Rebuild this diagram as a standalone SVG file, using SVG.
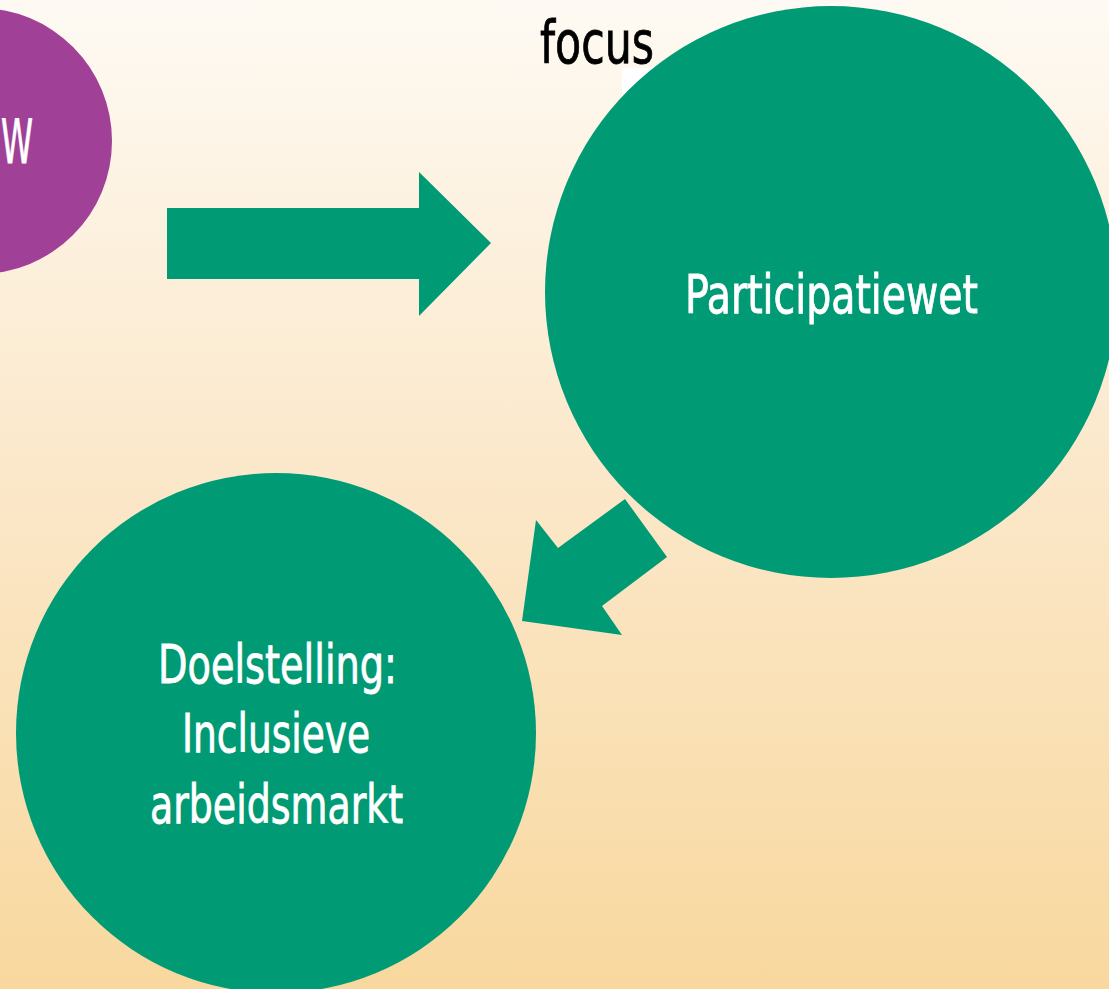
<svg xmlns="http://www.w3.org/2000/svg" width="1109" height="989" viewBox="0 0 1109 989">
<defs>
<linearGradient id="bg" x1="0" y1="0" x2="0" y2="1">
<stop offset="0" stop-color="#fefaf3"/>
<stop offset="0.5" stop-color="#fbe7c8"/>
<stop offset="1" stop-color="#f8d89e"/>
</linearGradient>
<style>
.green{fill:#009a74}
.purple{fill:#a04096}
.lbl{font-family:"DejaVu Sans Condensed","DejaVu Sans","Liberation Sans",sans-serif;font-stretch:condensed;font-size:53px;fill:#ffffff;stroke:#ffffff;stroke-width:0.8px}
.focus{font-family:"DejaVu Sans Condensed","DejaVu Sans","Liberation Sans",sans-serif;font-stretch:condensed;font-size:58px;fill:#000000;stroke:#000000;stroke-width:0.8px}
</style>
</defs>
<rect x="0" y="0" width="1109" height="989" fill="url(#bg)"/>
<rect x="622" y="68" width="60" height="50" fill="#ffffff"/>
<text class="focus" x="540" y="63" textLength="114" lengthAdjust="spacingAndGlyphs">focus</text>
<g id="node-purple">
<circle class="purple" cx="-21" cy="141" r="133"/>
<text class="lbl" x="1" y="163" style="font-size:61px" textLength="32" lengthAdjust="spacingAndGlyphs">W</text>
</g>
<g id="node-participatiewet">
<circle class="green" cx="831" cy="292" r="286"/>
<text class="lbl" x="685" y="313" textLength="293" lengthAdjust="spacingAndGlyphs">Participatiewet</text>
</g>
<g id="node-doelstelling">
<circle class="green" cx="276" cy="733" r="260"/>
<text class="lbl" x="158" y="683" textLength="239" lengthAdjust="spacingAndGlyphs">Doelstelling:</text>
<text class="lbl" x="182" y="752" textLength="188" lengthAdjust="spacingAndGlyphs">Inclusieve</text>
<text class="lbl" x="150" y="823" textLength="253" lengthAdjust="spacingAndGlyphs">arbeidsmarkt</text>
</g>
<g id="connectors">
<polygon class="green" points="167,208 419,208 419,172 491,243 419,316 419,279 167,279"/>
<polygon class="green" points="625,499 667,557 602,606 622,635 522,621 536,520 558,548"/>
</g>
</svg>
